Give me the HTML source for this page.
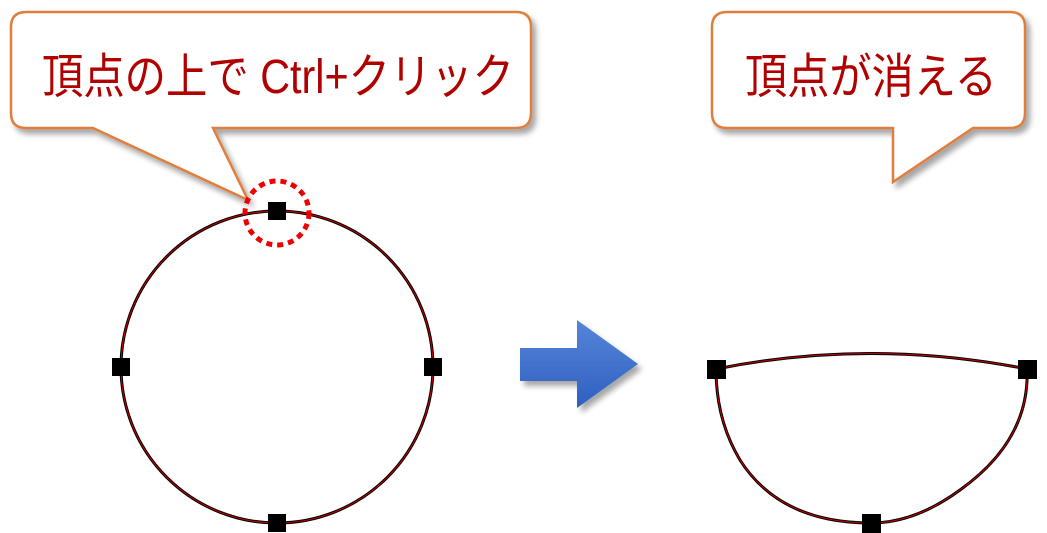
<!DOCTYPE html>
<html><head><meta charset="utf-8"><style>
html,body{margin:0;padding:0;background:#fff;}
svg{display:block}
text{font-family:"Liberation Sans","Noto Sans CJK JP",sans-serif;fill:#b00000;}
</style></head><body>
<svg width="1047" height="533" viewBox="0 0 1047 533" xmlns="http://www.w3.org/2000/svg">
<defs>
<filter id="sh" x="-10%" y="-10%" width="130%" height="140%"><feGaussianBlur in="SourceAlpha" stdDeviation="3"/><feOffset dx="4" dy="5"/><feComponentTransfer><feFuncA type="linear" slope="0.35"/></feComponentTransfer><feMerge><feMergeNode/><feMergeNode in="SourceGraphic"/></feMerge></filter>
<linearGradient id="bg" x1="0" y1="0" x2="0" y2="1"><stop offset="0" stop-color="#5585d8"/><stop offset="1" stop-color="#2f5fc0"/></linearGradient>
</defs>
<path filter="url(#sh)" d="M26,12 H516 Q531,12 531,27 V113 Q531,128 516,128 H213 L248,200 L93,128 H26 Q11,128 11,113 V27 Q11,12 26,12 Z" fill="#fff" stroke="#e07f3c" stroke-width="2.5"/>
<text x="42" y="93" font-size="48" textLength="472" lengthAdjust="spacingAndGlyphs">頂点の上で Ctrl+クリック</text>
<path filter="url(#sh)" d="M727,12 H1010 Q1025,12 1025,27 V113 Q1025,128 1010,128 H973 L893,182 V128 H727 Q712,128 712,113 V27 Q712,12 727,12 Z" fill="#fff" stroke="#e07f3c" stroke-width="2.5"/>
<text x="745" y="93" font-size="48" textLength="252" lengthAdjust="spacingAndGlyphs">頂点が消える</text>
<circle cx="277" cy="367" r="156" fill="none" stroke="#000" stroke-width="3"/>
<circle cx="277" cy="367" r="156" fill="none" stroke="#c00" stroke-width="1"/>
<circle cx="277" cy="213" r="32" fill="none" stroke="#e00" stroke-width="5" stroke-dasharray="6 5"/>
<g fill="#000">
<rect x="268" y="202" width="18" height="18"/>
<rect x="112" y="358" width="18" height="18"/>
<rect x="424" y="358" width="18" height="18"/>
<rect x="268" y="514" width="18" height="18"/>
</g>
<path filter="url(#sh)" d="M520,348 H577 V320 L638,364 L577,408 V381 H520 Z" fill="url(#bg)"/>
<path d="M716,369 Q871,338 1027,369 Q1030,440 960,490 Q915,523 871,523 Q780,523 740,460 Q716,420 716,369 Z" fill="none" stroke="#000" stroke-width="3"/>
<path d="M716,369 Q871,338 1027,369 Q1030,440 960,490 Q915,523 871,523 Q780,523 740,460 Q716,420 716,369 Z" fill="none" stroke="#c00" stroke-width="1"/>
<g fill="#000">
<rect x="707" y="360" width="19" height="19"/>
<rect x="1018" y="360" width="19" height="19"/>
<rect x="862" y="514" width="19" height="19"/>
</g>
</svg>
</body></html>
